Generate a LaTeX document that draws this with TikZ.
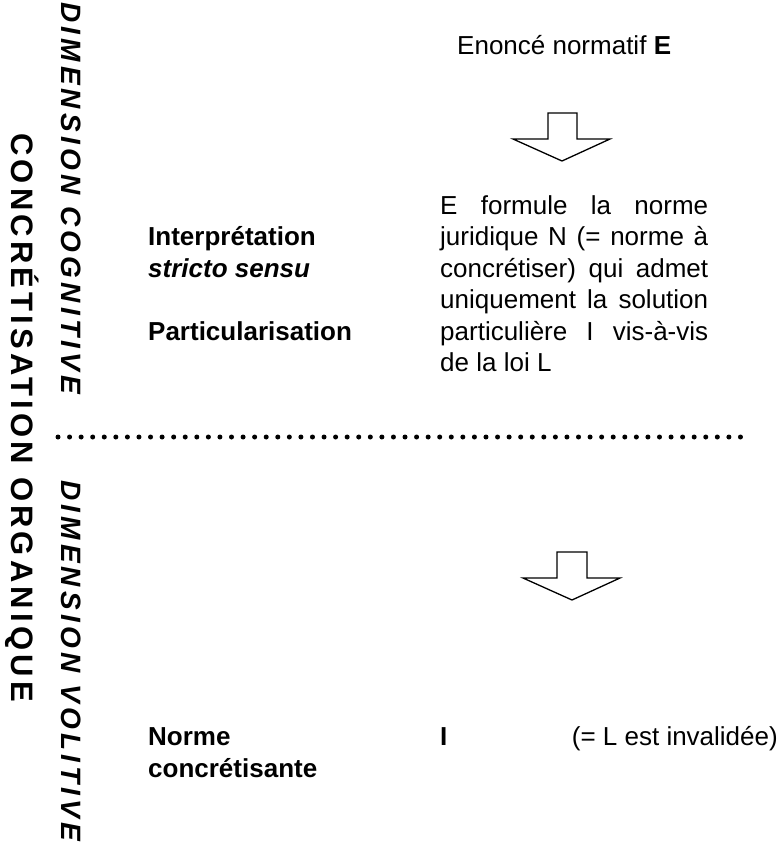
\documentclass[tikz,border=0pt]{standalone}
\usepackage{fontspec}
\setmainfont{Liberation Sans}
\begin{document}
\begin{tikzpicture}[x=1pt,y=-1pt,
  txt/.style={font=\fontsize{26}{31.5}\selectfont, inner sep=0pt, anchor=base west},
  bl/.style={txt, font=\fontsize{26}{31.5}\selectfont\bfseries},
  arr/.style={draw=black, fill=white, line width=1.3pt, line join=miter},
  vbig/.style={inner sep=0pt, rotate=-90, anchor=base west,
    font=\fontsize{31}{33}\selectfont\bfseries\addfontfeatures{LetterSpace=13.5}},
  vdim/.style={inner sep=0pt, rotate=-90, anchor=base west,
    font=\fontsize{28}{30}\selectfont\bfseries\itshape\addfontfeatures{LetterSpace=15}},
  dots/.style={line width=5pt, line cap=round, dash pattern=on 0pt off 11.567pt}]
\useasboundingbox (0,0) rectangle (781,851);

% vertical labels
\node[vbig] (org) at (12,133) {CONCRÉTISATION ORGANIQUE};
\node[vdim] (cog) at (61,2) {DIMENSION COGNITIVE};
\node[vdim] (vol) at (61,480) {DIMENSION VOLITIVE};

% top statement
\node[txt] (enonce) at (457,55) {Enoncé normatif \textbf{E}};

% arrows
\draw[arr] (548,113) -- (577,113) -- (577,139) -- (610,139) -- (562,161)
  -- (513,139) -- (548,139) -- cycle;
\draw[arr] (557,552) -- (587,552) -- (587,578) -- (620,578) -- (572,600)
  -- (523,578) -- (557,578) -- cycle;

% left labels
\node[bl] (interp) at (148,245.5) {Interprétation};
\node[bl] (stricto) at (148,277) {\textit{stricto sensu}};
\node[bl] (partic) at (148,340) {Particularisation};
\node[bl] (norme) at (148,745) {Norme};
\node[bl] (concr) at (148,777) {concrétisante};

% paragraph
\node[txt] (p1) at (440,214) {\makebox[268pt][s]{E formule la norme}};
\node[txt] (p2) at (440,245.5) {\makebox[268pt][s]{juridique N (= norme à}};
\node[txt] (p3) at (440,277) {\makebox[268pt][s]{concrétiser) qui admet}};
\node[txt] (p4) at (440,308.5) {\makebox[268pt][s]{uniquement la solution}};
\node[txt] (p5) at (440,340) {\makebox[268pt][s]{particulière I vis-à-vis}};
\node[txt] (p6) at (440,371.5) {de la loi L};

% separator
\coordinate (sepA) at (58,437);
\coordinate (sepB) at (752,437);
\draw[dots] (sepA) -- (sepB);

% result
\node[bl] (ival) at (440,745) {I};
\node[txt, anchor=base east] (inv) at (778,745) {(= L est invalidée)};
\end{tikzpicture}
\end{document}
